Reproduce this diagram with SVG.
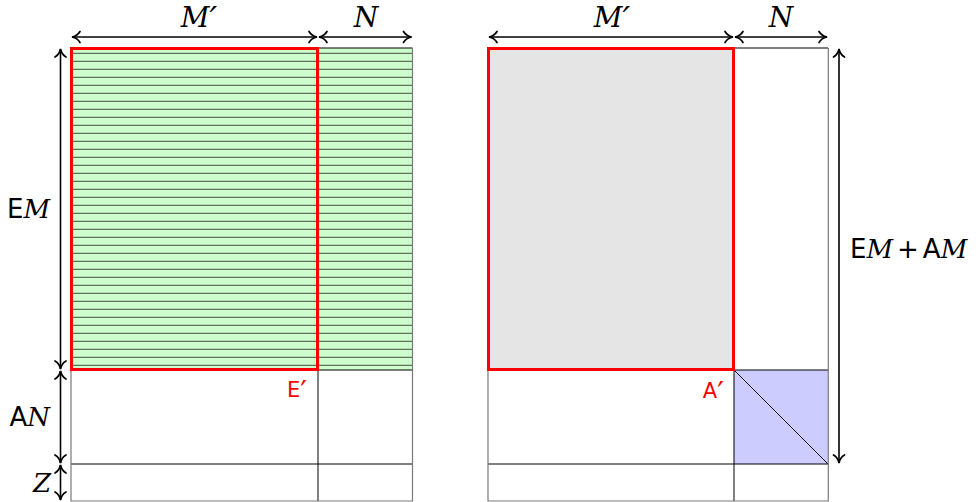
<svg xmlns="http://www.w3.org/2000/svg" width="978" height="502" viewBox="0 0 978 502">
<style>
.cell{fill:none;stroke:#000;stroke-width:1}
.outer{fill:none;stroke:#7a7a7a;stroke-width:1.2}
.red{fill:none;stroke:#ff0000;stroke-width:3}
.arr{stroke:#000;stroke-width:1.6;fill:none;marker-start:url(#tip);marker-end:url(#tip)}
.math{font-family:"DejaVu Serif","Liberation Serif",serif;font-style:italic}
.sans{font-family:"DejaVu Sans","Liberation Sans",sans-serif;font-style:normal}
.lbl{font-size:26px;fill:#000}
.top{font-size:28px;fill:#000}
.redlbl{font-family:"DejaVu Sans","Liberation Sans",sans-serif;font-size:21px;fill:#ff0000}
.prime{font-size:30px}
.mprime{font-size:34px}
</style>
<defs>
<marker id="tip" markerUnits="userSpaceOnUse" markerWidth="16" markerHeight="16" refX="0" refY="0" viewBox="-8 -8 16 16" orient="auto-start-reverse" overflow="visible">
<path d="M-8,-5.5 C-6,-2 -2.5,-0.5 0,0 C-2.5,0.5 -6,2 -8,5.5" fill="none" stroke="#000" stroke-width="1.7" stroke-linecap="round"/>
</marker>
<pattern id="hatch" patternUnits="userSpaceOnUse" x="0" y="0" width="20" height="8">
<rect x="0" y="0" width="20" height="8" fill="#ccffcc"/>
<line x1="0" y1="5.3" x2="20" y2="5.3" stroke="#333" stroke-width="0.9"/>
</pattern>
</defs>

<g id="left-matrix">
<rect x="71" y="48" width="341.5" height="322" fill="url(#hatch)"/>
<line class="cell" x1="318" y1="48" x2="318" y2="501"/>
<line class="cell" x1="318" y1="48" x2="412.5" y2="48"/>
<line class="cell" x1="71" y1="370" x2="412.5" y2="370"/>
<line class="cell" x1="71" y1="464" x2="412.5" y2="464"/>
<polyline class="outer" points="71,48 71,501 412.5,501 412.5,48"/>
<rect class="red" x="71.5" y="48.5" width="246" height="321"/>
<text class="redlbl" x="307" y="397" text-anchor="end">E<tspan class="prime" dy="5">′</tspan></text>
</g>

<g id="right-matrix">
<rect x="488" y="48" width="246" height="322" fill="#e5e5e5"/>
<rect x="734" y="370" width="94" height="94" fill="#ccccff"/>
<line class="cell" x1="734" y1="370" x2="828" y2="464"/>
<line class="cell" x1="734" y1="48" x2="734" y2="501"/>
<line class="cell" x1="734" y1="48" x2="828" y2="48"/>
<line class="cell" x1="488" y1="370" x2="828" y2="370"/>
<line class="cell" x1="488" y1="464" x2="828" y2="464"/>
<polyline class="outer" points="488,48 488,501 828.3,501 828.3,48"/>
<rect class="red" x="488.5" y="48.5" width="245" height="321"/>
<text class="redlbl" x="724" y="398" text-anchor="end">A<tspan class="prime" dy="5">′</tspan></text>
</g>

<g id="connectors">
<line class="arr" x1="72" y1="37" x2="317" y2="37"/>
<line class="arr" x1="319" y1="37" x2="411.5" y2="37"/>
<line class="arr" x1="60.5" y1="49" x2="60.5" y2="369"/>
<line class="arr" x1="60.5" y1="371" x2="60.5" y2="463"/>
<line class="arr" x1="60.5" y1="465" x2="60.5" y2="500"/>
<line class="arr" x1="489" y1="37" x2="733" y2="37"/>
<line class="arr" x1="735" y1="37" x2="827" y2="37"/>
<line class="arr" x1="839" y1="49" x2="839" y2="463"/>
</g>

<g id="labels">
<text class="math top" x="199" y="27" text-anchor="middle">M<tspan class="mprime" dy="4">′</tspan></text>
<text class="math top" x="366" y="27" text-anchor="middle">N</text>
<text class="math top" x="612" y="27" text-anchor="middle">M<tspan class="mprime" dy="4">′</tspan></text>
<text class="math top" x="781" y="27" text-anchor="middle">N</text>
<text class="lbl" x="50" y="218" text-anchor="end"><tspan class="sans">E</tspan><tspan class="math">M</tspan></text>
<text class="lbl" x="50" y="426" text-anchor="end"><tspan class="sans">A</tspan><tspan class="math">N</tspan></text>
<text class="math lbl" x="51" y="492" text-anchor="end">Z</text>
<text class="lbl" x="850" y="258"><tspan class="sans">E</tspan><tspan class="math">M</tspan><tspan class="sans" dx="4">+</tspan><tspan class="sans" dx="4">A</tspan><tspan class="math">M</tspan></text>
</g>
</svg>
